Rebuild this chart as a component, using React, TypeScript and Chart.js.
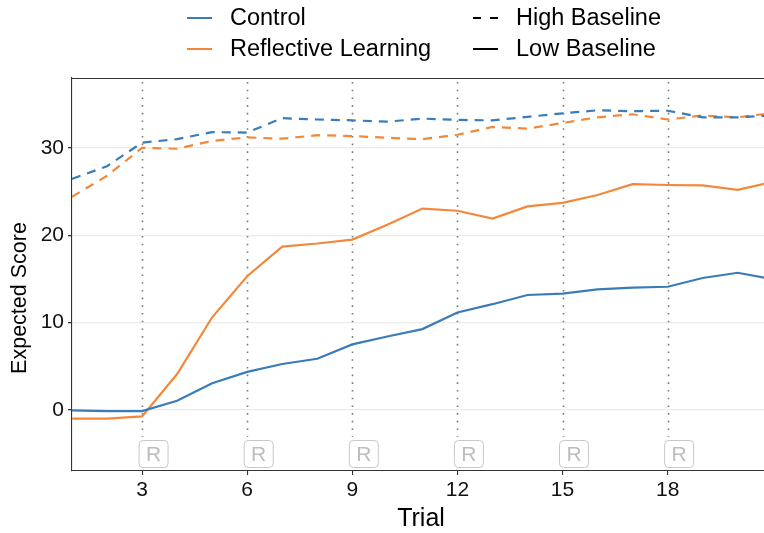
import React, { useEffect, useRef } from "react";
import { Chart, registerables } from "chart.js";

Chart.register(...registerables);

const trials = [1, 2, 3, 4, 5, 6, 7, 8, 9, 10, 11, 12, 13, 14, 15, 16, 17, 18, 19, 20, 21];
const controlHigh = [26.45, 27.9, 30.6, 31.0, 31.8, 31.75, 33.4, 33.25, 33.15, 33.0, 33.35, 33.2, 33.15, 33.55, 33.95, 34.3, 34.2, 34.25, 33.5, 33.5, 33.7];
const reflectiveHigh = [24.4, 26.8, 30.0, 29.9, 30.8, 31.2, 31.05, 31.45, 31.35, 31.15, 31.0, 31.5, 32.4, 32.2, 32.85, 33.5, 33.85, 33.25, 33.7, 33.5, 34.0];
const controlLow = [-0.05, -0.15, -0.15, 1.05, 3.05, 4.35, 5.25, 5.85, 7.5, 8.4, 9.25, 11.15, 12.1, 13.15, 13.3, 13.8, 14.0, 14.1, 15.1, 15.7, 14.95];
const reflectiveLow = [-1.0, -1.0, -0.75, 4.1, 10.6, 15.3, 18.7, 19.05, 19.5, 21.2, 23.05, 22.8, 21.9, 23.3, 23.7, 24.6, 25.85, 25.75, 25.7, 25.2, 26.1];

const xTicks = [3, 6, 9, 12, 15, 18];
const yTicks = [0, 10, 20, 30];
const reflectionTrials = [3, 6, 9, 12, 15, 18];
const reflectionLabel = "R";
const groupNames = ["Control", "Reflective Learning"];
const baselineNames = ["High Baseline", "Low Baseline"];
const xTitle = "Trial";
const yTitle = "Expected Score";

const BLUE = "#3a7cb8";
const ORANGE = "#f4883a";
const FONT = "'Liberation Sans', Arial, Helvetica, sans-serif";

const toPts = (ys: number[]) => trials.map((t, i) => ({ x: t, y: ys[i] }));

const overlay = {
  id: "overlay",
  beforeDatasetsDraw(chart: any) {
    const { ctx, chartArea } = chart;
    const x = chart.scales.x;
    ctx.save();
    ctx.strokeStyle = "#7a7a7a";
    ctx.lineWidth = 1.6;
    ctx.setLineDash([1.6, 6.1]);
    for (const v of reflectionTrials) {
      const px = Math.round(x.getPixelForValue(v)) + 0.5;
      ctx.beginPath();
      ctx.moveTo(px, chartArea.top + 4);
      ctx.lineTo(px, chartArea.bottom - 34);
      ctx.stroke();
    }
    ctx.restore();
  },
  afterDraw(chart: any) {
    const { ctx, chartArea } = chart;
    const x = chart.scales.x;
    ctx.save();
    // top panel border
    ctx.strokeStyle = "#333";
    ctx.lineWidth = 1.1;
    ctx.beginPath();
    ctx.moveTo(chartArea.left, chartArea.top + 0.5);
    ctx.lineTo(chartArea.right, chartArea.top + 0.5);
    ctx.stroke();

    // R boxes
    for (const v of reflectionTrials) {
      const px = x.getPixelForValue(v);
      const bx = px - 3.5;
      const by = chartArea.bottom - 31;
      const bw = 29;
      const bh = 27;
      ctx.beginPath();
      ctx.roundRect(bx + 0.5, by + 0.5, bw, bh, 4);
      ctx.fillStyle = "#ffffff";
      ctx.fill();
      ctx.strokeStyle = "#c8c8c8";
      ctx.lineWidth = 1;
      ctx.setLineDash([]);
      ctx.stroke();
      ctx.fillStyle = "#bdbdbd";
      ctx.font = `21px ${FONT}`;
      ctx.textAlign = "center";
      ctx.textBaseline = "middle";
      ctx.fillText(reflectionLabel, bx + bw / 2 + 0.5, by + bh / 2 + 1.5);
    }

    // axis titles
    ctx.fillStyle = "#000";
    ctx.textAlign = "center";
    ctx.textBaseline = "middle";
    ctx.font = `25px ${FONT}`;
    ctx.fillText(xTitle, 421, 519);
    ctx.save();
    ctx.translate(20, 298);
    ctx.rotate(-Math.PI / 2);
    ctx.font = `21.5px ${FONT}`;
    ctx.fillText(yTitle, 0, 0);
    ctx.restore();

    // legend
    ctx.font = `23.5px ${FONT}`;
    ctx.textAlign = "left";
    ctx.textBaseline = "middle";
    const rows = [18, 49];
    const groupColors = [BLUE, ORANGE];
    for (let i = 0; i < 2; i++) {
      ctx.strokeStyle = groupColors[i];
      ctx.lineWidth = 2;
      ctx.setLineDash([]);
      ctx.beginPath();
      ctx.moveTo(187, rows[i]);
      ctx.lineTo(212, rows[i]);
      ctx.stroke();
      ctx.fillStyle = "#000";
      ctx.fillText(groupNames[i], 230, rows[i] + 1);

      ctx.strokeStyle = "#000";
      ctx.setLineDash(i === 0 ? [8, 9] : []);
      ctx.beginPath();
      ctx.moveTo(473, rows[i]);
      ctx.lineTo(498, rows[i]);
      ctx.stroke();
      ctx.setLineDash([]);
      ctx.fillText(baselineNames[i], 516, rows[i] + 1);
    }
    ctx.restore();
  },
};

export default function App() {
  const ref = useRef<HTMLCanvasElement | null>(null);
  useEffect(() => {
    if (!ref.current) return;
    const dash = [9, 7];
    const chart = new Chart(ref.current, {
      type: "line",
      data: {
        datasets: [
          { label: "Control High", data: toPts(controlHigh), borderColor: BLUE, borderDash: dash, borderWidth: 2.2, pointRadius: 0, tension: 0 },
          { label: "Reflective High", data: toPts(reflectiveHigh), borderColor: ORANGE, borderDash: dash, borderWidth: 2.2, pointRadius: 0, tension: 0 },
          { label: "Control Low", data: toPts(controlLow), borderColor: BLUE, borderWidth: 2.2, pointRadius: 0, tension: 0 },
          { label: "Reflective Low", data: toPts(reflectiveLow), borderColor: ORANGE, borderWidth: 2.2, pointRadius: 0, tension: 0 },
        ],
      },
      options: {
        responsive: false,
        animation: false,
        devicePixelRatio: 1,
        layout: { padding: { top: 78, left: 0, right: 0, bottom: 0 } },
        plugins: { legend: { display: false }, tooltip: { enabled: false } },
        scales: {
          x: {
            type: "linear",
            min: 1,
            max: 20.75,
            afterBuildTicks: (s: any) => {
              s.ticks = xTicks.map((v) => ({ value: v }));
            },
            afterFit: (s: any) => {
              s.height = 62;
            },
            grid: { display: true, drawOnChartArea: false, color: "#333", tickColor: "#333", tickLength: 4, lineWidth: 1.1 },
            border: { display: true, color: "#333", width: 1.1 },
            ticks: { color: "#111", font: { family: FONT, size: 21 }, padding: 3, maxRotation: 0, autoSkip: false },
            title: { display: false, text: xTitle },
          },
          y: {
            type: "linear",
            min: -7,
            max: 38,
            afterBuildTicks: (s: any) => {
              s.ticks = yTicks.map((v) => ({ value: v }));
            },
            afterFit: (s: any) => {
              s.width = 72;
            },
            grid: { color: "#ebebeb", lineWidth: 1.3, tickColor: "#333", tickLength: 4 },
            border: { display: true, color: "#333", width: 1.1 },
            ticks: { color: "#111", font: { family: FONT, size: 21 }, padding: 4, autoSkip: false },
            title: { display: false, text: yTitle },
          },
        },
      },
      plugins: [overlay],
    });
    return () => chart.destroy();
  }, []);
  return (
    <div style={{ position: "fixed", left: 0, top: 0, width: 764, height: 533, background: "#fff" }}>
      <canvas ref={ref} width={764} height={533} style={{ width: 764, height: 533, display: "block" }} />
    </div>
  );
}
